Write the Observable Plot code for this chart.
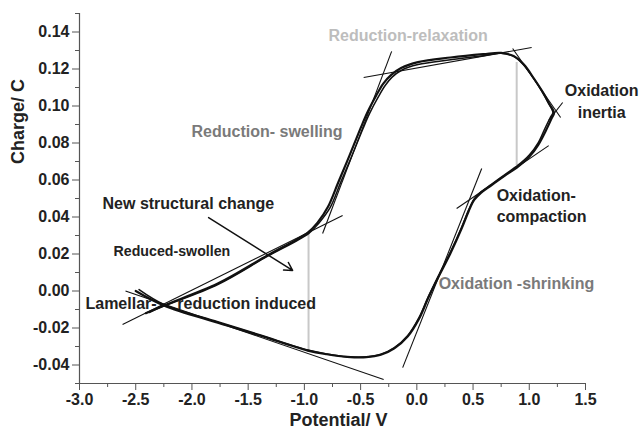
<!DOCTYPE html>
<html>
<head>
<meta charset="utf-8">
<script src="https://cdn.jsdelivr.net/npm/d3@7"></script>
<script src="https://cdn.jsdelivr.net/npm/@observablehq/plot@0.6"></script>
<style>
  html, body { margin: 0; padding: 0; background: #fff; }
  #chart { width: 639px; height: 429px; }
</style>
</head>
<body>
<div id="chart"></div>
<script>
// ---- Data (Potential / V, Charge / C) ----
const cycle1X = [-2.50, -2.25, -1.77, -1.39, -0.97, -0.80, -0.62, -0.45, -0.32, -0.20, -0.08, 0.02, 0.10, 0.20, 0.30, 0.40, 0.46, 0.51, 0.57, 0.66, 0.78, 0.90, 1.00, 1.08, 1.15, 1.20, 1.22, 1.18, 1.12, 1.04, 0.95, 0.86, 0.75, 0.59, 0.30, 0.01, -0.14, -0.23, -0.30, -0.36, -0.44, -0.50, -0.60, -0.70, -0.79, -0.88, -0.97, -1.33, -1.77, -2.25, -2.41];
const cycle1Y = [0.0000, -0.0078, -0.0172, -0.0242, -0.0322, -0.0342, -0.0356, -0.0358, -0.0345, -0.0310, -0.0245, -0.0150, -0.0040, 0.0085, 0.0205, 0.0340, 0.0430, 0.0492, 0.0530, 0.0570, 0.0622, 0.0672, 0.0725, 0.0790, 0.0870, 0.0935, 0.0962, 0.1010, 0.1075, 0.1150, 0.1225, 0.1270, 0.1287, 0.1280, 0.1262, 0.1237, 0.1205, 0.1167, 0.1120, 0.1058, 0.0965, 0.0880, 0.0730, 0.0585, 0.0455, 0.0372, 0.0316, 0.0192, 0.0040, -0.0078, -0.0120];

const cycle2X = [-2.47, -2.25, -1.77, -1.39, -0.97, -0.80, -0.62, -0.45, -0.32, -0.20, -0.08, 0.02, 0.10, 0.20, 0.30, 0.40, 0.46, 0.51, 0.57, 0.66, 0.78, 0.90, 1.00, 1.08, 1.14, 1.19, 1.21, 1.17, 1.11, 1.03, 0.94, 0.85, 0.75, 0.59, 0.30, 0.01, -0.14, -0.22, -0.28, -0.34, -0.42, -0.48, -0.58, -0.68, -0.77, -0.87, -0.96, -1.33, -1.77, -2.25, -2.38];
const cycle2Y = [0.0008, -0.0072, -0.0166, -0.0238, -0.0319, -0.0340, -0.0355, -0.0356, -0.0342, -0.0306, -0.0240, -0.0143, -0.0033, 0.0092, 0.0212, 0.0347, 0.0437, 0.0498, 0.0536, 0.0575, 0.0628, 0.0680, 0.0735, 0.0802, 0.0880, 0.0942, 0.0965, 0.1016, 0.1082, 0.1157, 0.1230, 0.1272, 0.1285, 0.1272, 0.1250, 0.1224, 0.1192, 0.1156, 0.1112, 0.1052, 0.0960, 0.0876, 0.0727, 0.0583, 0.0452, 0.0368, 0.0312, 0.0187, 0.0035, -0.0082, -0.0116];

// tangent lines: start/end potential and charge
const tangentX1 = [-2.617, -2.591, -0.838, -0.473, 0.852, 1.173, 0.354, -0.126];
const tangentY1 = [-0.0181, 0.0000, 0.0311, 0.1154, 0.1311, 0.0922, 0.0446, -0.0414];
const tangentX2 = [-0.660, -0.295, -0.224, 1.021, 1.279, 1.297, 1.173, 0.577];
const tangentY2 = [0.0408, -0.0478, 0.1295, 0.1316, 0.0938, 0.1019, 0.0786, 0.0662];

// grey vertical markers
const markerX = [-0.963, 0.888];
const markerYTop = [0.0316, 0.1235];
const markerYBottom = [-0.0332, 0.0678];

// arrow for "New structural change"
const arrowFrom = [-1.852, 0.0397];
const arrowTo = [-1.105, 0.0111];

// annotations
const labelText = ["Reduction-relaxation", "Reduction- swelling", "Oxidation", "inertia", "Oxidation-", "compaction", "Oxidation -shrinking", "New structural change", "Reduced-swollen", "Lamellar-", "reduction induced"];
const labelX = [-0.785, -2.004, 1.644, 1.644, 0.710, 0.710, 0.194, -2.795, -2.697, -2.947, -2.13];
const labelY = [0.1381, 0.0862, 0.1081, 0.0962, 0.0516, 0.0403, 0.0040, 0.0473, 0.0214, -0.0068, -0.0068];
const labelTone = ["light", "mid", "dark", "dark", "dark", "dark", "mid", "dark", "dark", "dark", "dark"];

// axes
const xTicks = [-3.0, -2.5, -2.0, -1.5, -1.0, -0.5, 0.0, 0.5, 1.0, 1.5];
const xMinor = [-2.75, -2.25, -1.75, -1.25, -0.75, -0.25, 0.25, 0.75, 1.25];
const yTicks = [-0.04, -0.02, 0.00, 0.02, 0.04, 0.06, 0.08, 0.10, 0.12, 0.14];
const yMinor = [-0.05, -0.03, -0.01, 0.01, 0.03, 0.05, 0.07, 0.09, 0.11, 0.13, 0.15];
const xTitle = "Potential/ V";
const yTitle = "Charge/ C";

// ---- build tables ----
const cycle1 = cycle1X.map((x, i) => ({x, y: cycle1Y[i]}));
const cycle2 = cycle2X.map((x, i) => ({x, y: cycle2Y[i]}));
const tangents = tangentX1.map((x1, i) => ({x1, y1: tangentY1[i], x2: tangentX2[i], y2: tangentY2[i]}));
const markers = markerX.map((x, i) => ({x, y1: markerYBottom[i], y2: markerYTop[i]}));
const labels = labelText.map((t, i) => ({text: t, x: labelX[i], y: labelY[i], tone: labelTone[i]}));
const toneColor = {light: "#bdbdbd", mid: "#7a7a7a", dark: "#222"};

const font = "'Liberation Sans', Arial, Helvetica, sans-serif";
const centered = new Set(["Oxidation", "inertia"]);

const chart = Plot.plot({
  width: 639,
  height: 429,
  marginLeft: 79,
  marginRight: 54,
  marginTop: 13,
  marginBottom: 46,
  style: {fontFamily: font, fontWeight: "bold", background: "#fff", color: "#222", overflow: "visible"},
  x: {domain: [-3, 1.5]},
  y: {domain: [-0.05, 0.15]},
  marks: [
    Plot.ruleX([-3], {stroke: "#555", strokeWidth: 1.2}),
    Plot.ruleY([-0.05], {stroke: "#555", strokeWidth: 1.2}),
    Plot.axisX({ticks: xTicks, tickSize: 7, tickPadding: 3, tickFormat: d => d.toFixed(1), fontSize: 16, fontWeight: "bold", stroke: "#555", fill: "#222", label: null}),
    Plot.axisX({ticks: xMinor, tickSize: 4, tickFormat: () => "", stroke: "#555", label: null}),
    Plot.axisY({ticks: yTicks, tickSize: 7, tickPadding: 3, tickFormat: d => d.toFixed(2), fontSize: 16, fontWeight: "bold", stroke: "#555", fill: "#222", label: null}),
    Plot.axisY({ticks: yMinor, tickSize: 4, tickFormat: () => "", stroke: "#555", label: null}),
    Plot.ruleX(markers, {x: "x", y1: "y1", y2: "y2", stroke: "#c8c8c8", strokeWidth: 2}),
    Plot.link(tangents, {x1: "x1", y1: "y1", x2: "x2", y2: "y2", stroke: "#111", strokeWidth: 1.1}),
    Plot.line(cycle2, {x: "x", y: "y", curve: "catmull-rom", stroke: "#111", strokeWidth: 1.5}),
    Plot.line(cycle1, {x: "x", y: "y", curve: "catmull-rom", stroke: "#111", strokeWidth: 2.2}),
    Plot.arrow([{}], {x1: () => arrowFrom[0], y1: () => arrowFrom[1], x2: () => arrowTo[0], y2: () => arrowTo[1], stroke: "#111", strokeWidth: 1.5, headLength: 9}),
    Plot.text(labels.filter(d => !centered.has(d.text)), {x: "x", y: "y", text: "text", textAnchor: "start", fontSize: d => d.text === "Reduced-swollen" ? 14.2 : 16, fontWeight: "bold", fill: d => toneColor[d.tone]}),
    Plot.text(labels.filter(d => centered.has(d.text)), {x: "x", y: "y", text: "text", textAnchor: "middle", fontSize: 16, fontWeight: "bold", fill: d => toneColor[d.tone]}),
    Plot.text([yTitle], {frameAnchor: "top-left", dx: -61, dy: 108, rotate: -90, textAnchor: "middle", lineAnchor: "middle", fontSize: 18, fontWeight: "bold", fill: "#222"}),
    Plot.text([xTitle], {frameAnchor: "bottom", dx: 6, dy: 37, textAnchor: "middle", lineAnchor: "middle", fontSize: 18, fontWeight: "bold", fill: "#222"})
  ]
});
document.getElementById("chart").appendChild(chart);
</script>
</body>
</html>
